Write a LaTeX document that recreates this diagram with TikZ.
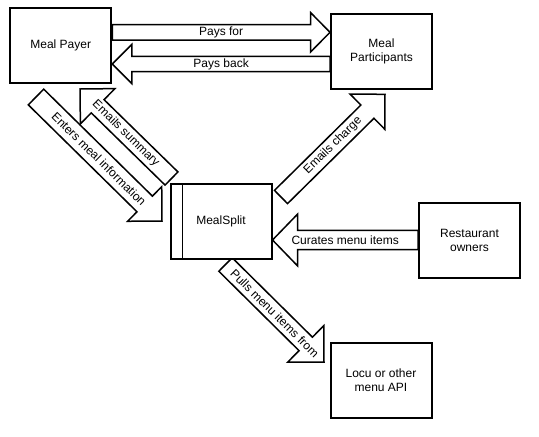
\documentclass[tikz,border=0pt]{standalone}
\usepackage{fontspec}
\setmainfont{Liberation Sans}
\usetikzlibrary{calc}
\tikzset{
  box/.style={draw=black, line width=2pt, fill=white, minimum width=101pt, minimum height=75pt,
    inner sep=0pt, align=center, font=\fontsize{12}{14}\selectfont},
  blockarrow/.style={draw=black, line width=1.5pt, fill=white, line join=miter},
  lbl/.style={inner sep=0pt, font=\fontsize{12}{14}\selectfont},
  splitbar/.style={draw=black, line width=1.6pt},
}
% #1 tail centre, #2 tip, #3 shaft half-width, #4 head half-width, #5 head length, #6 label
\newcommand\blkarrow[6]{%
  \coordinate (ba-t) at #1;
  \coordinate (ba-p) at #2;
  \coordinate (ba-h) at ($(ba-p)!#5!(ba-t)$);
  \draw[blockarrow] ($(ba-t)!#3!90:(ba-p)$) -- ($(ba-h)!#3!90:(ba-p)$) -- ($(ba-h)!#4!90:(ba-p)$)
    -- (ba-p) -- ($(ba-h)!#4!-90:(ba-p)$) -- ($(ba-h)!#3!-90:(ba-p)$) -- ($(ba-t)!#3!-90:(ba-p)$) -- cycle;
  \path (ba-t) -- (ba-p) node[midway, sloped, lbl] {#6};
}
\begin{document}
\begin{tikzpicture}[x=1pt, y=-1pt]
\useasboundingbox (0,0) rectangle (539,437);
% node placement (boxes are drawn again on top of the arrows below)
\path node[box, draw=none, fill=none] (payer) at (60.75,45.8) {}
      node[box, draw=none, fill=none] (part) at (381.5,51.3) {}
      node[box, draw=none, fill=none] (split) at (221,221.5) {}
      node[box, draw=none, fill=none] (rest) at (469.5,240) {}
      node[box, draw=none, fill=none] (locu) at (381,380) {};

% block arrows
\blkarrow{($(payer.north east)+(0,25)$)}{($(part.north west)+(0,19.5)$)}{7.8pt}{19.7pt}{19.4pt}{Pays for}
\blkarrow{($(part.north west)+(0,51.2)$)}{($(payer.north east)+(0,56.7)$)}{7.6pt}{19.5pt}{19.5pt}{Pays back}
\blkarrow{($(split.north east)+(8.5,14)$)}{($(part.south)+(3.5,4.5)$)}{9.3pt}{24.7pt}{24.7pt}{Emails charge}
\blkarrow{($(payer.south west)+(26.75,12.7)$)}{($(split.north west)+(-7.5,38)$)}{11pt}{24.3pt}{24.3pt}{Enters meal information}
\blkarrow{($(split.north west)+(2,-4.5)$)}{($(payer.south west)+(70.75,4.7)$)}{9.2pt}{24.7pt}{24.7pt}{Emails summary}
\blkarrow{(rest.west)}{($(split.east)+(0,18.5)$)}{9.7pt}{25.8pt}{25pt}{Curates menu items}
\blkarrow{($(split.south)+(4.5,4.5)$)}{($(locu.north west)+(-5.5,20.5)$)}{9.5pt}{25.7pt}{25.7pt}{Pulls menu items from}

% boxes
\node[box] (payerbox) at (payer) {Meal Payer};
\node[box] (partbox) at (part) {Meal\\Participants};
\node[box] (splitbox) at (split) {MealSplit};
\draw[splitbar] ($(splitbox.north west)+(13,0)$) -- ($(splitbox.south west)+(13,0)$);
\node[box] (restbox) at (rest) {Restaurant\\owners};
\node[box] (locubox) at (locu) {Locu or other\\menu API};
\end{tikzpicture}
\end{document}
